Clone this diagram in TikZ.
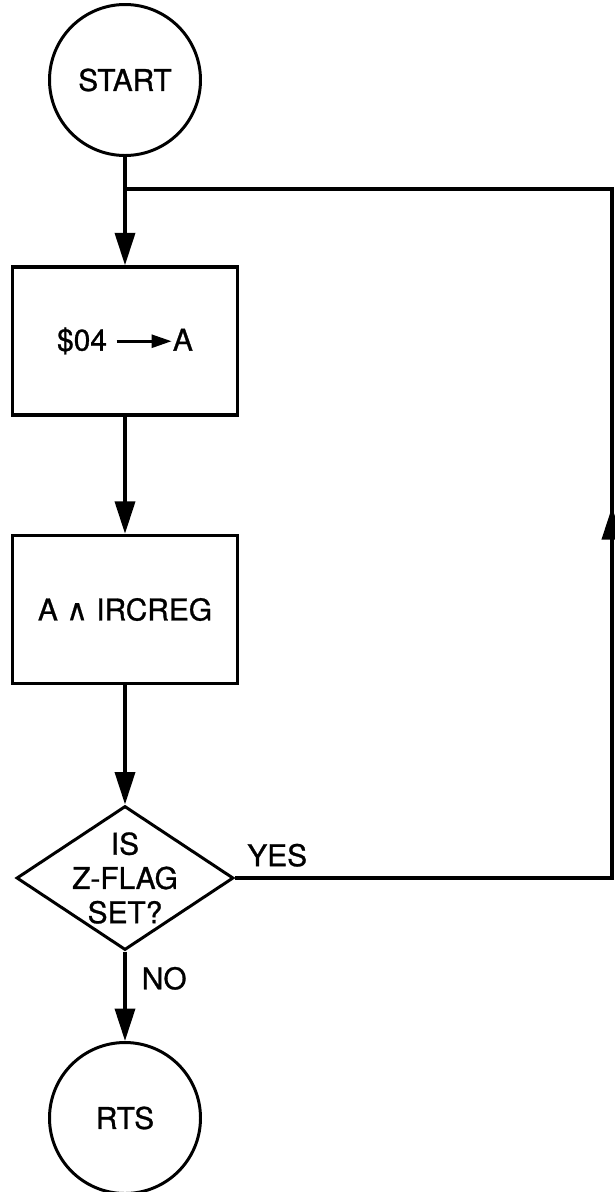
\documentclass[tikz,border=0pt]{standalone}
\usepackage{fontspec}
\setmainfont{TeX Gyre Heros}[FakeBold=0.9]
\newfontfamily\opfont{DejaVu Sans}[FakeBold=0.5]
\usetikzlibrary{arrows.meta}
\usetikzlibrary{shapes.geometric}
\usetikzlibrary{positioning}

\begin{document}
\begin{tikzpicture}[
  term/.style={draw, circle, line width=1.7pt, minimum size=3.02cm, inner sep=0},
  proc/.style={draw, rectangle, line width=1.9pt, minimum width=4.5cm, minimum height=2.96cm},
  decis/.style={draw, diamond, line width=1.7pt, minimum width=4.34cm, minimum height=2.88cm, inner sep=0},
  flow/.style={line width=2.1pt},
  flowarr/.style={line width=2.1pt, -{Triangle[length=6.5mm, width=4mm]}},
  font=\fontsize{17}{19.5}\selectfont
]
\useasboundingbox (0,0) rectangle (12.3,-23.84);

\node[term] (start) at (2.5,-1.6) {START};

\node[proc] (b1) at (2.5,-6.82) {\$04 \tikz[baseline=-0.6ex]\draw[line width=1.5pt,-{Triangle[length=4mm,width=2.6mm]}] (0,0) -- (1.1,0);A};

\node[proc] (b2) at (2.5,-12.19) {A {\opfont ∧} IRCREG};

\node[decis, label={[align=center]center:IS\\Z-FLAG\\SET?}] (d1) at (2.5,-17.56) {};

\node[term] (rts) at (2.5,-22.36) {RTS};

% loop back
\coordinate (v1) at (2.5,-3.78);
\coordinate (v2) at (12.24,-3.78);
\coordinate (v3) at (12.24,-17.56);
\coordinate (v4) at (12.24,-10.14);

\draw[flowarr] (start) -- (b1);
\draw[flowarr] (b1) -- (b2);
\draw[flowarr] (b2) -- (d1);
\draw[flowarr] (d1) -- node[right=0.3cm, pos=0.3, inner sep=0] (no) {NO} (rts);

\draw[flow] (d1.east) -- (v3) -- (v2) -- (v1);
\draw[flowarr] (v3) -- (v4);
\node[above right=0.22cm and 0.24cm of d1.east, inner sep=0] (yes) {YES};
\end{tikzpicture}
\end{document}
